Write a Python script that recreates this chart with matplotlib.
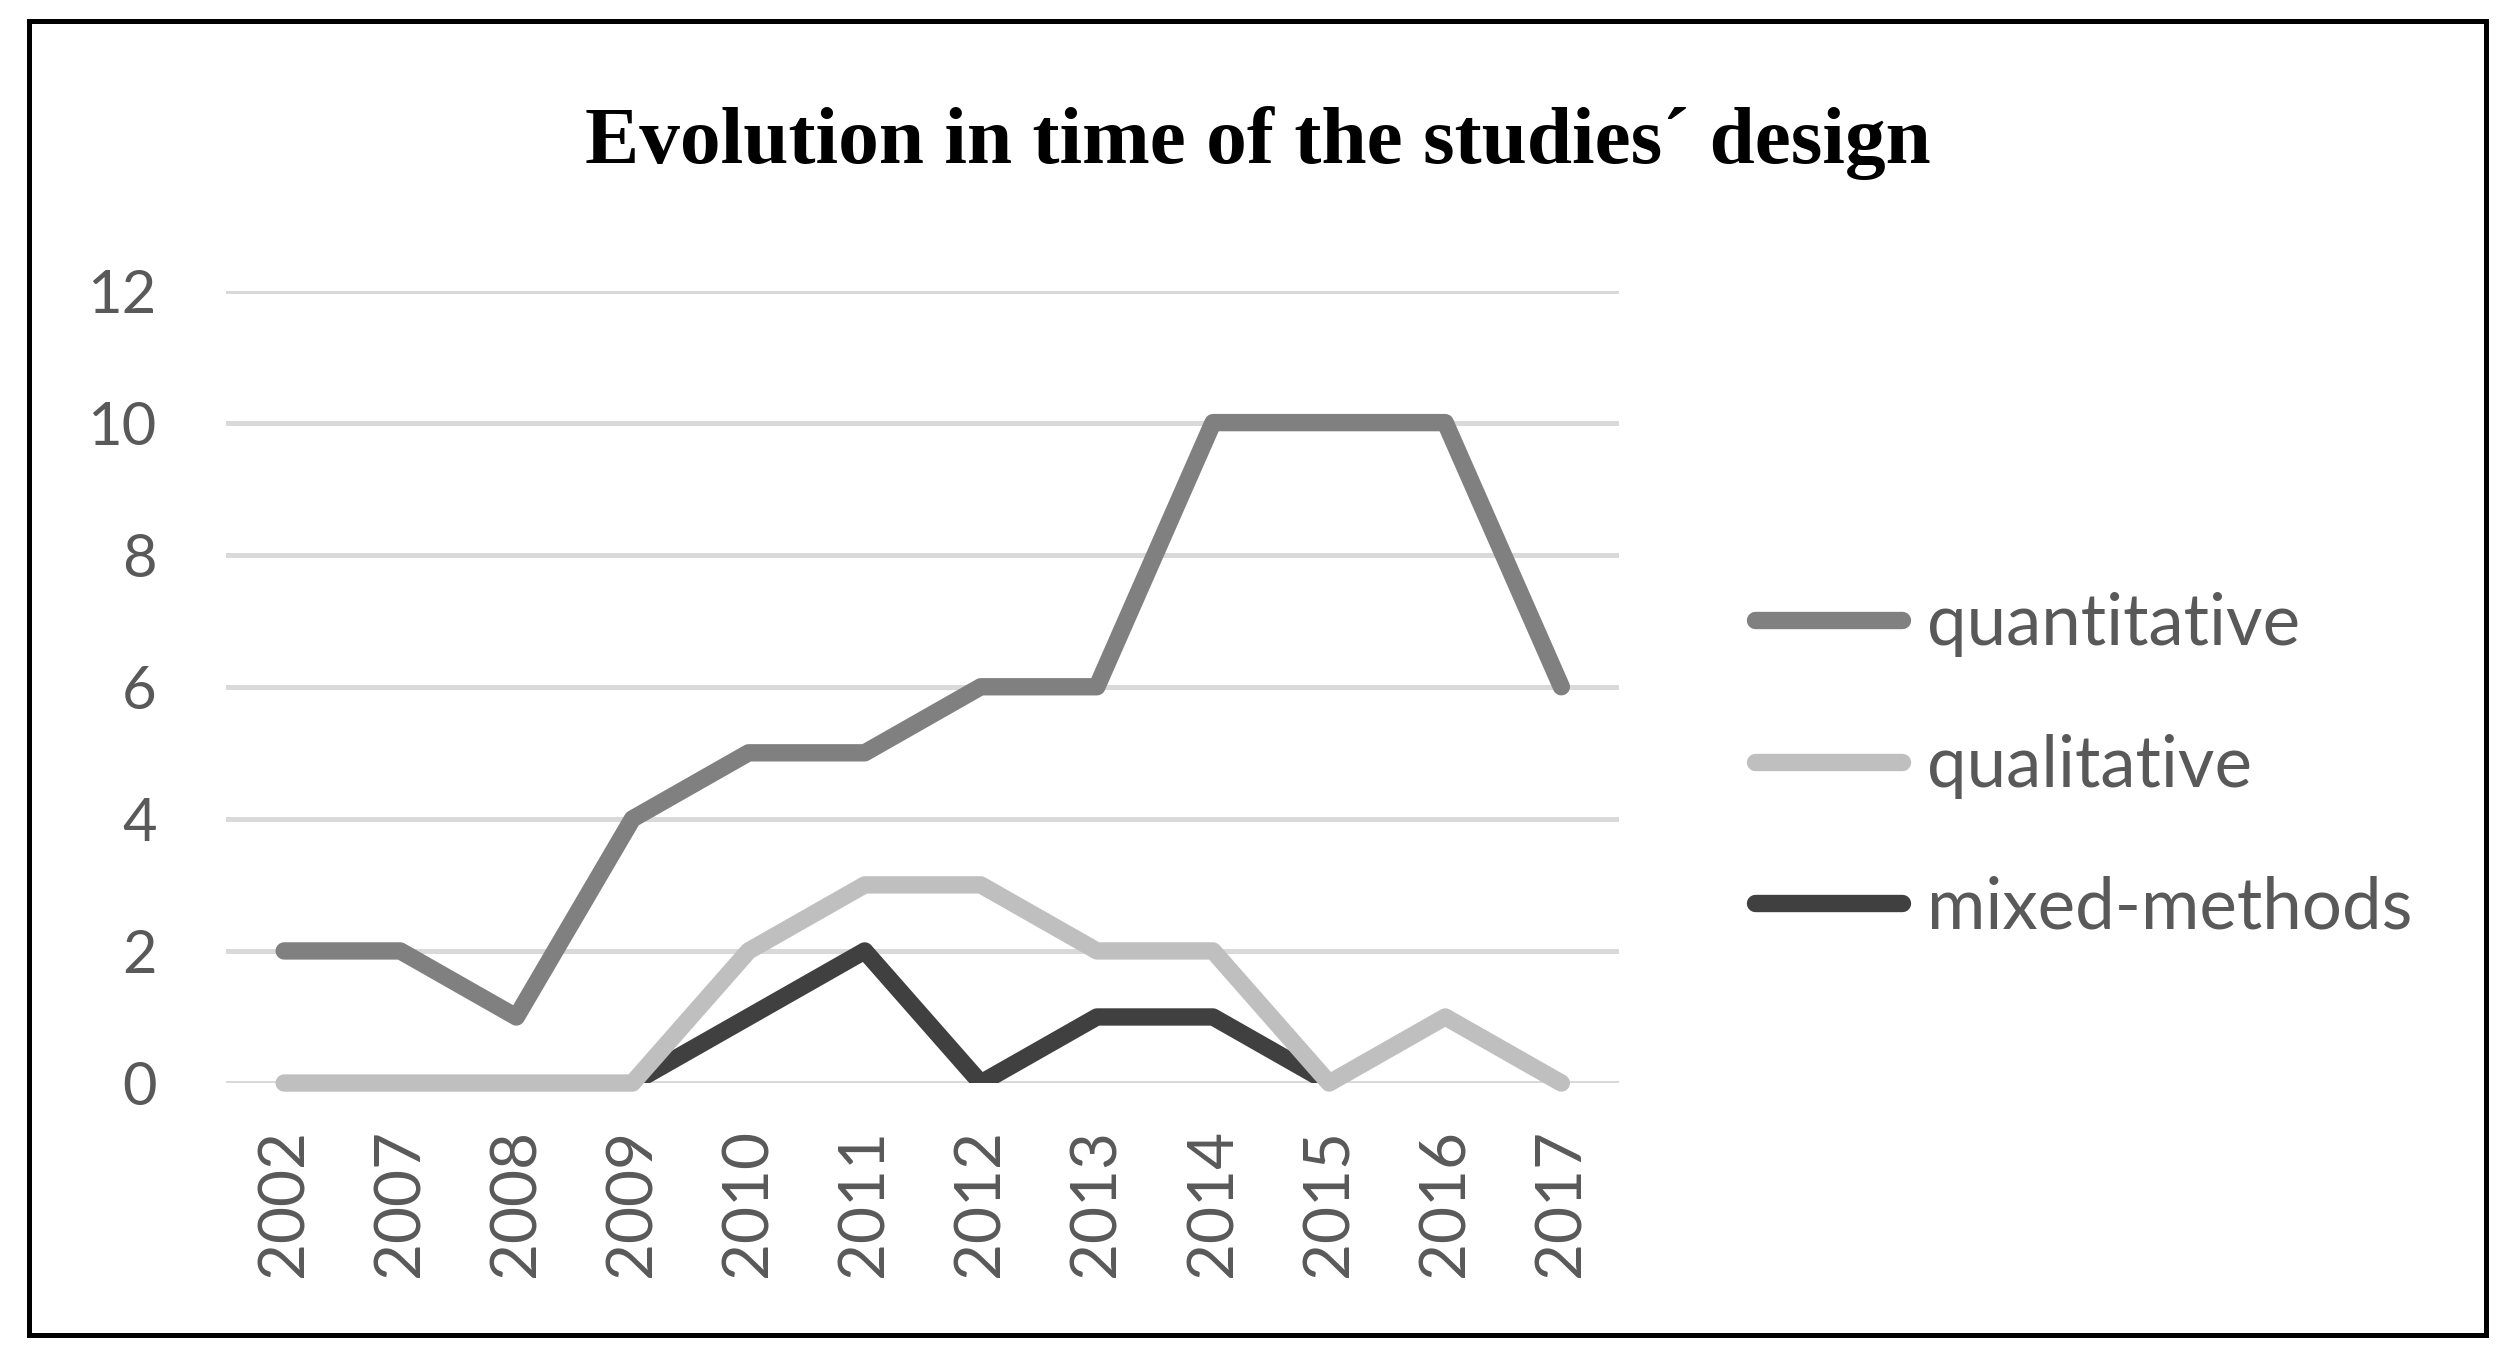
import numpy as np
import matplotlib.pyplot as plt
from matplotlib.patches import Rectangle

years = ['2002', '2007', '2008', '2009', '2010', '2011',
         '2012', '2013', '2014', '2015', '2016', '2017']
quantitative = [2, 2, 1, 4, 5, 5, 6, 6, 10, 10, 10, 6]
qualitative = [0, 0, 0, 0, 2, 3, 3, 2, 2, 0, 1, 0]
mixed_methods = [np.nan, np.nan, np.nan, 0, 1, 2, 0, 1, 1, 0, np.nan, np.nan]
y_ticks = [0, 2, 4, 6, 8, 10, 12]

txt_col = '#595959'
plt.rcParams['font.family'] = ['Lato', 'DejaVu Sans']

fig = plt.figure(figsize=(25.15, 13.64), dpi=100)
ax = fig.add_axes([0.0899, 0.206, 0.554, 0.581])

x = np.arange(len(years))
lw = 12.5
ax.plot(x, quantitative, color='#808080', lw=lw, solid_capstyle='round',
        solid_joinstyle='round', label='quantitative', zorder=5, clip_on=False)
ax.plot(x, qualitative, color='#bfbfbf', lw=lw, solid_capstyle='round',
        solid_joinstyle='round', label='qualitative', zorder=4, clip_on=False)
ax.plot(x, mixed_methods, color='#404040', lw=lw, solid_capstyle='round',
        solid_joinstyle='round', label='mixed-methods', zorder=3)

ax.set_xlim(-0.5, len(years) - 0.5)
ax.set_ylim(0, 12)
ax.set_yticks(y_ticks)
ax.set_yticklabels([str(v) for v in y_ticks])
ax.set_xticks(x)
ax.set_xticklabels(years, rotation=90)
ax.tick_params(axis='y', length=0, pad=50, labelsize=43, labelcolor=txt_col)
ax.tick_params(axis='x', length=0, pad=33, labelsize=46, labelcolor=txt_col)
for s in ax.spines.values():
    s.set_visible(False)
ax.grid(axis='y', color='#d9d9d9', lw=3.6, zorder=0)
ax.set_axisbelow(True)

leg = ax.legend(loc='center left', bbox_to_anchor=(1.077, 0.40), frameon=False,
                fontsize=51, handlelength=2.08, handletextpad=0.35,
                labelspacing=1.08, borderaxespad=0)
for t in leg.get_texts():
    t.set_color(txt_col)

fig.text(0.5, 0.895, 'Evolution in time of the studies\u00b4 design',
         ha='center', va='center', fontsize=58.5, fontweight='bold',
         family='Liberation Serif', color='black')

fig.patches.append(Rectangle((0.0115, 0.0213), 0.977, 0.963, transform=fig.transFigure,
                             fill=False, edgecolor='black', lw=3.6))

fig.savefig('out.png', dpi=100)
